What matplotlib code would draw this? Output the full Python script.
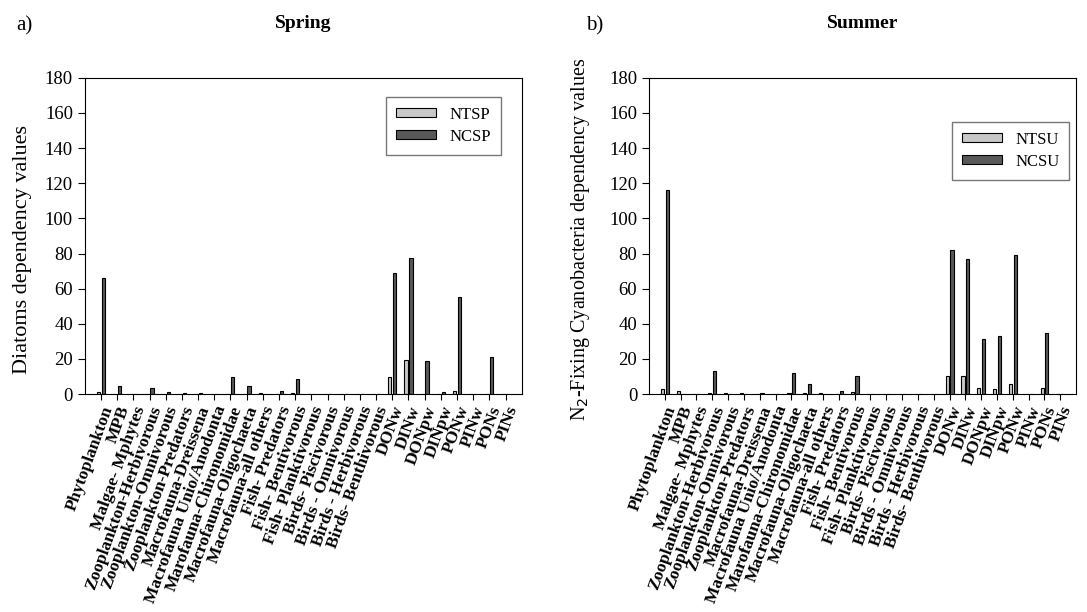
import numpy as np
import matplotlib.pyplot as plt

plt.rcParams['font.family'] = ['Liberation Serif', 'DejaVu Serif']

categories = ["Phytoplankton", "MPB", "Malgae- Mphytes", "Zooplankton-Herbivorous",
              "Zooplankton-Omnivorous", "Zooplankton-Predators", "Macrofauna-Dreissena",
              "Macrofauna Unio/Anodonta", "Marofauna-Chironomidae", "Macrofauna-Oligochaeta",
              "Macrofauna-all others", "Fish- Predators", "Fish- Bentivorous",
              "Fish- Planktivorous", "Birds- Piscivorous", "Birds - Omnivorous",
              "Birds - Herbivorous", "Birds- Benthivorous", "DONw", "DINw", "DONpw",
              "DINpw", "PONw", "PINw", "PONs", "PINs"]

ntsp = [1.0, 0, 0, 0, 0, 0, 0, 0, 0, 0, 0.5, 0, 0.5, 0, 0, 0, 0, 0,
        9.7, 19.4, 0, 0, 1.9, 0, 0, 0]
ncsp = [66, 4.6, 0, 3.4, 1.1, 0.5, 0.5, 0, 9.7, 4.8, 0, 1.7, 8.8, 0, 0, 0, 0, 0,
        69, 77.5, 18.9, 1.3, 55.4, 0, 21.0, 0]

ntsu = [2.9, 1.9, 0, 0.6, 0.5, 0.5, 0, 0, 0.5, 0.5, 0.5, 0, 1.1, 0, 0, 0, 0, 0,
        10.1, 10.3, 3.6, 3.2, 5.9, 0, 3.6, 0]
ncsu = [116, 0, 0, 13.3, 0, 0, 0.6, 0, 12.2, 5.9, 0, 1.9, 10.3, 0, 0, 0, 0, 0,
        81.9, 77, 31.6, 33.1, 78.9, 0, 35.0, 0]

light = '#c8c8c8'
dark = '#585858'

fig = plt.figure(figsize=(10.87, 6.12), dpi=100)
ax1 = fig.add_axes([0.078, 0.356, 0.402, 0.517])
ax2 = fig.add_axes([0.597, 0.356, 0.393, 0.517])

x = np.arange(len(categories))
w = 0.2

def panel(ax, a, b, names, ylabel, ylab_size, ylab_pos, title, letter, letter_x, leg_pos):
    ax.bar(x - 0.15, a, w, color=light, edgecolor='black', linewidth=0.8, label=names[0])
    ax.bar(x + 0.15, b, w, color=dark, edgecolor='black', linewidth=0.8, label=names[1])
    ax.set_xlim(-1, 26)
    ax.set_ylim(0, 180)
    ax.set_yticks(np.arange(0, 181, 20))
    ax.set_xticks(x)
    ax.set_xticklabels(categories, rotation=70, ha='right', va='top',
                       rotation_mode='anchor', fontweight='bold', fontsize=12.5)
    ax.tick_params(axis='y', labelsize=13.5, direction='out', length=5)
    ax.tick_params(axis='x', direction='out', length=4, pad=3)
    ax.set_ylabel(ylabel, fontsize=ylab_size)
    ax.yaxis.set_label_coords(*ylab_pos)
    leg = ax.legend(loc='upper right', bbox_to_anchor=leg_pos, fontsize=12,
                    fancybox=False, framealpha=1, handlelength=2.4, handleheight=0.45,
                    labelspacing=0.35, borderpad=0.6, borderaxespad=0)
    leg.get_frame().set_edgecolor('#777777')
    ax.set_title(title, fontsize=14, fontweight='bold', pad=36)
    ax.text(letter_x, 1.165, letter, transform=ax.transAxes, fontsize=15, va='center')

panel(ax1, ntsp, ncsp, ['NTSP', 'NCSP'], 'Diatoms dependency values', 16,
      (-0.12, 0.456), 'Spring', 'a)', -0.156, (0.952, 0.94))
panel(ax2, ntsu, ncsu, ['NTSU', 'NCSU'], 'N$_2$-Fixing Cyanobacteria dependency values', 14.5,
      (-0.133, 0.49), 'Summer', 'b)', -0.147, (0.984, 0.861))

fig.savefig('out.png', dpi=100)
